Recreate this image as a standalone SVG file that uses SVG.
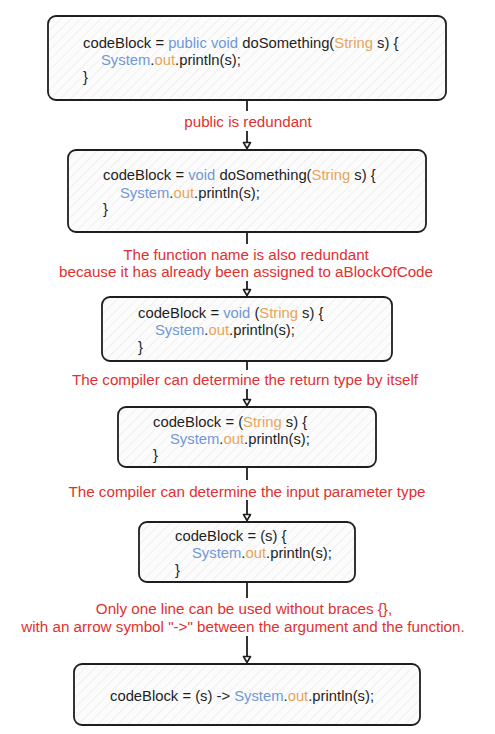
<svg xmlns="http://www.w3.org/2000/svg" width="495" height="734" viewBox="0 0 495 734">
<style>
text{font-family:"Liberation Sans","Noto Sans",sans-serif;font-size:14.8px;white-space:pre}
.code{fill:#1e1e1e}
.kw{fill:#7098d6}
.ty{fill:#e8a45a}
.lbl{fill:#e03131;text-anchor:middle;font-size:15.2px}
.box{fill:url(#hatch);stroke:#1e1e1e;stroke-width:1.8}
.conn{fill:none;stroke:#1e1e1e;stroke-width:1.8}
</style>
<defs>
<pattern id="hatch" patternUnits="userSpaceOnUse" width="7" height="7" patternTransform="rotate(45)">
<rect width="7" height="7" fill="#fcfcfc"/>
<line x1="0" y1="0" x2="0" y2="7" stroke="#e2e2e2" stroke-width="1"/>
</pattern>
<marker id="arr" markerUnits="userSpaceOnUse" viewBox="-8 -5 10 10" refX="0" refY="0" markerWidth="10" markerHeight="10" orient="auto">
<path d="M-6,-3.5 L0,0 L-6,3.5 Z" fill="#ffffff" stroke="#1e1e1e" stroke-width="1.6" stroke-linejoin="round"/>
</marker>
</defs>
<rect width="495" height="734" fill="#ffffff"/>
<g id="connectors">
<path class="conn" d="M247 101 V111 M247 131 V148.5" marker-end="url(#arr)"/>
<path class="conn" d="M247 233 V244 M247 281 V295.5" marker-end="url(#arr)"/>
<path class="conn" d="M247 362 V370 M247 389 V405.5" marker-end="url(#arr)"/>
<path class="conn" d="M247 468 V480 M247 500 V520.5" marker-end="url(#arr)"/>
<path class="conn" d="M247 583 V598 M247 636 V662.5" marker-end="url(#arr)"/>
</g>
<g id="labels">
<text class="lbl" x="248" y="127">public is redundant</text>
<text class="lbl" x="246" y="260">The function name is also redundant</text>
<text class="lbl" x="246" y="277">because it has already been assigned to aBlockOfCode</text>
<text class="lbl" x="245" y="385">The compiler can determine the return type by itself</text>
<text class="lbl" x="247" y="497">The compiler can determine the input parameter type</text>
<text class="lbl" x="244" y="614">Only one line can be used without braces {},</text>
<text class="lbl" x="243" y="632">with an arrow symbol "-&gt;" between the argument and the function.</text>
</g>
<g id="node1">
<rect class="box" x="48" y="16" width="398" height="84" rx="8"/>
<text class="code" x="83" y="48">codeBlock = <tspan class="kw">public void</tspan> doSomething(<tspan class="ty">String</tspan> s) {</text>
<text class="code" x="101" y="65"><tspan class="kw">System</tspan>.<tspan class="ty">out</tspan>.println(s);</text>
<text class="code" x="83" y="82">}</text>
</g>
<g id="node2">
<rect class="box" x="68" y="150" width="358" height="82" rx="8"/>
<text class="code" x="103" y="180">codeBlock = <tspan class="kw">void</tspan> doSomething(<tspan class="ty">String</tspan> s) {</text>
<text class="code" x="120" y="197.5"><tspan class="kw">System</tspan>.<tspan class="ty">out</tspan>.println(s);</text>
<text class="code" x="103" y="214">}</text>
</g>
<g id="node3">
<rect class="box" x="102" y="297" width="290" height="64" rx="8"/>
<text class="code" x="138" y="318">codeBlock = <tspan class="kw">void</tspan> (<tspan class="ty">String</tspan> s) {</text>
<text class="code" x="155" y="335"><tspan class="kw">System</tspan>.<tspan class="ty">out</tspan>.println(s);</text>
<text class="code" x="138" y="352">}</text>
</g>
<g id="node4">
<rect class="box" x="118" y="407" width="258" height="60" rx="8"/>
<text class="code" x="153" y="427">codeBlock = (<tspan class="ty">String</tspan> s) {</text>
<text class="code" x="170" y="443.5"><tspan class="kw">System</tspan>.<tspan class="ty">out</tspan>.println(s);</text>
<text class="code" x="153" y="460">}</text>
</g>
<g id="node5">
<rect class="box" x="139" y="522" width="216" height="60" rx="8"/>
<text class="code" x="175" y="541">codeBlock = (s) {</text>
<text class="code" x="192" y="558"><tspan class="kw">System</tspan>.<tspan class="ty">out</tspan>.println(s);</text>
<text class="code" x="175" y="575">}</text>
</g>
<g id="node6">
<rect class="box" x="74" y="664" width="346" height="61" rx="8"/>
<text class="code" x="110" y="701">codeBlock = (s) -&gt; <tspan class="kw">System</tspan>.<tspan class="ty">out</tspan>.println(s);</text>
</g>
</svg>
